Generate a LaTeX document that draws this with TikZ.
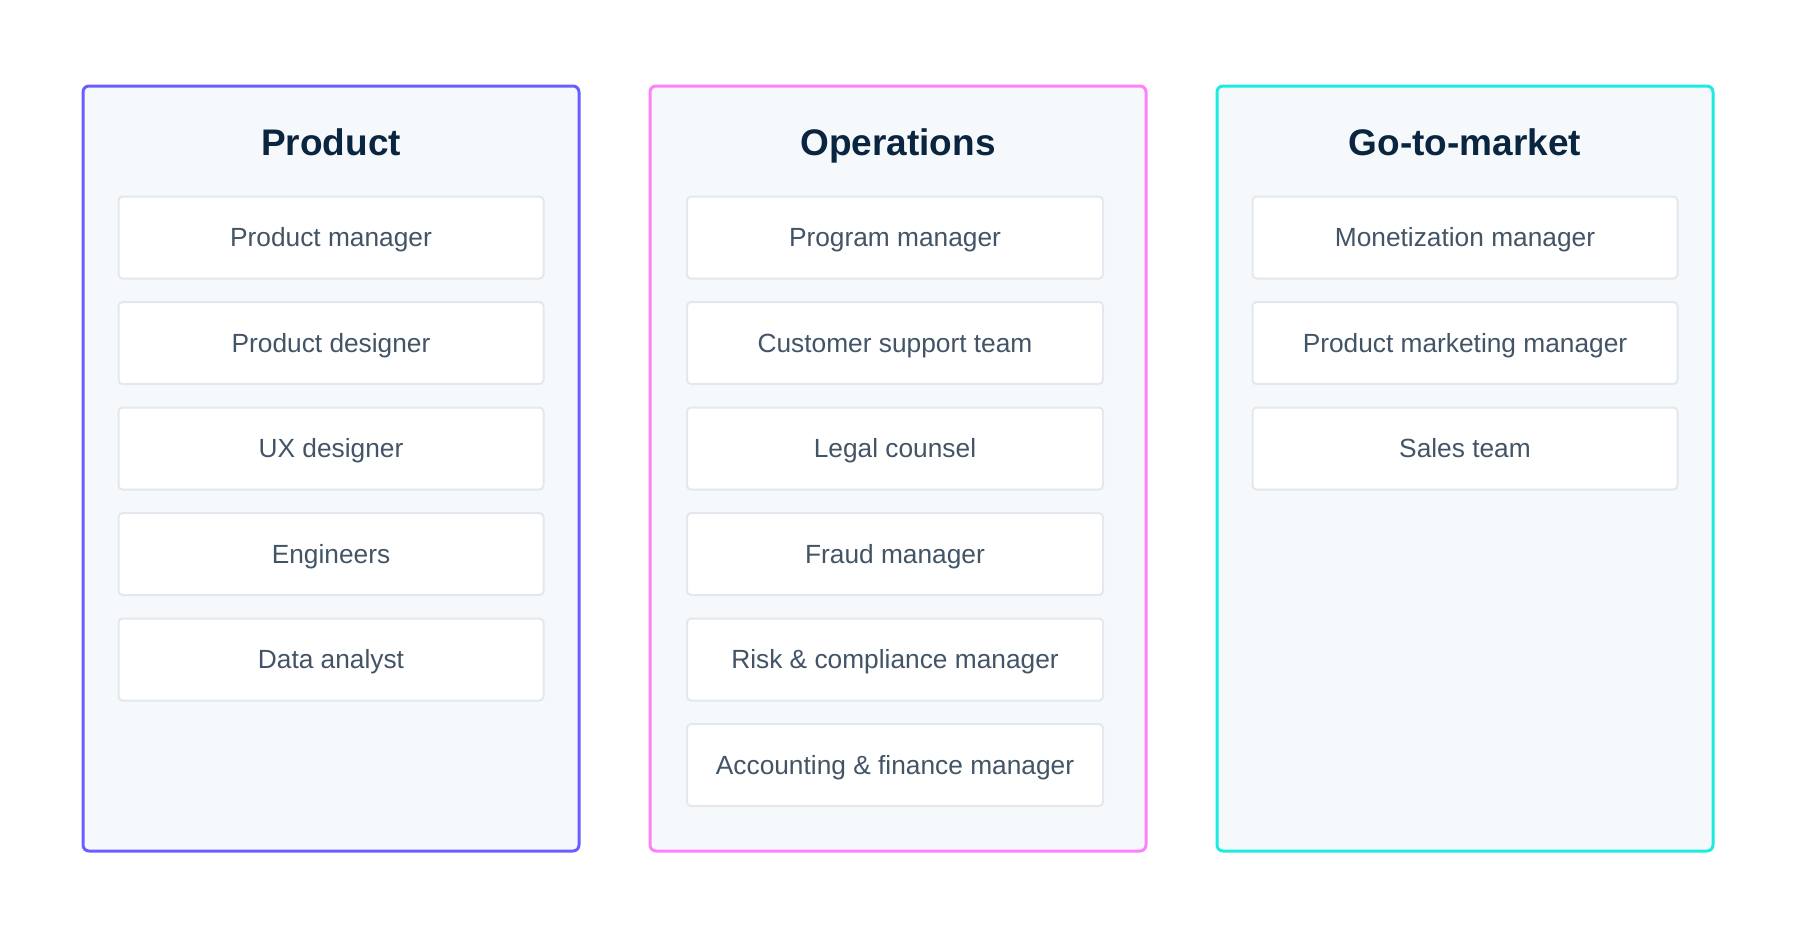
\documentclass[tikz,border=0pt]{standalone}
\usepackage{fontspec}
\setmainfont{Liberation Sans}
\definecolor{panelfill}{HTML}{F6F9FC}
\definecolor{itemline}{HTML}{E3E8EE}
\definecolor{titlecol}{HTML}{0A2540}
\definecolor{itemtext}{HTML}{425466}
\definecolor{purplec}{HTML}{6A5EFF}
\definecolor{pinkc}{HTML}{FF80F8}
\definecolor{cyanc}{HTML}{1CEBE0}
\begin{document}
\begin{tikzpicture}[x=1pt,y=-1pt,
  panel/.style={draw=#1, line width=3pt, fill=panelfill, rounded corners=6pt},
  itembox/.style={draw=itemline, line width=2pt, fill=white, rounded corners=4pt,
    minimum width=425pt, minimum height=82pt, inner sep=0pt,
    text height=18.8pt, text depth=0pt,
    text=itemtext, font=\fontsize{26.3}{30}\selectfont},
  opbox/.style={itembox, minimum width=416pt},
  paneltitle/.style={text=titlecol, font=\fontsize{37}{42}\selectfont\bfseries, inner sep=0pt,
    text height=26.5pt, text depth=0pt}
]
\useasboundingbox (0,0) rectangle (1800,938);
\fill[white] (0,0) rectangle (1800,938);
% panels
\draw[panel=purplec] (83,86) rectangle (579,851);
\draw[panel=pinkc] (650,86) rectangle (1146,851);
\draw[panel=cyanc] (1217,86) rectangle (1713,851);
% titles
\node[paneltitle] (t1) at (331,142) {Product};
\node[paneltitle] (t2) at (898,142) {Operations};
\node[paneltitle] (t3) at (1465,142) {Go-to-market};
% product items
\node[itembox] (p1) at (331,237.5) {Product manager};
\node[itembox] (p2) at (331,343) {Product designer};
\node[itembox] (p3) at (331,448.5) {UX designer};
\node[itembox] (p4) at (331,554) {Engineers};
\node[itembox] (p5) at (331,659.5) {Data analyst};
% operations items
\node[opbox] (o1) at (895,237.5) {Program manager};
\node[opbox] (o2) at (895,343) {Customer support team};
\node[opbox] (o3) at (895,448.5) {Legal counsel};
\node[opbox] (o4) at (895,554) {Fraud manager};
\node[opbox] (o5) at (895,659.5) {Risk \& compliance manager};
\node[opbox] (o6) at (895,765) {Accounting \& finance manager};
% go-to-market items
\node[itembox] (g1) at (1465,237.5) {Monetization manager};
\node[itembox] (g2) at (1465,343) {Product marketing manager};
\node[itembox] (g3) at (1465,448.5) {Sales team};
\end{tikzpicture}
\end{document}
